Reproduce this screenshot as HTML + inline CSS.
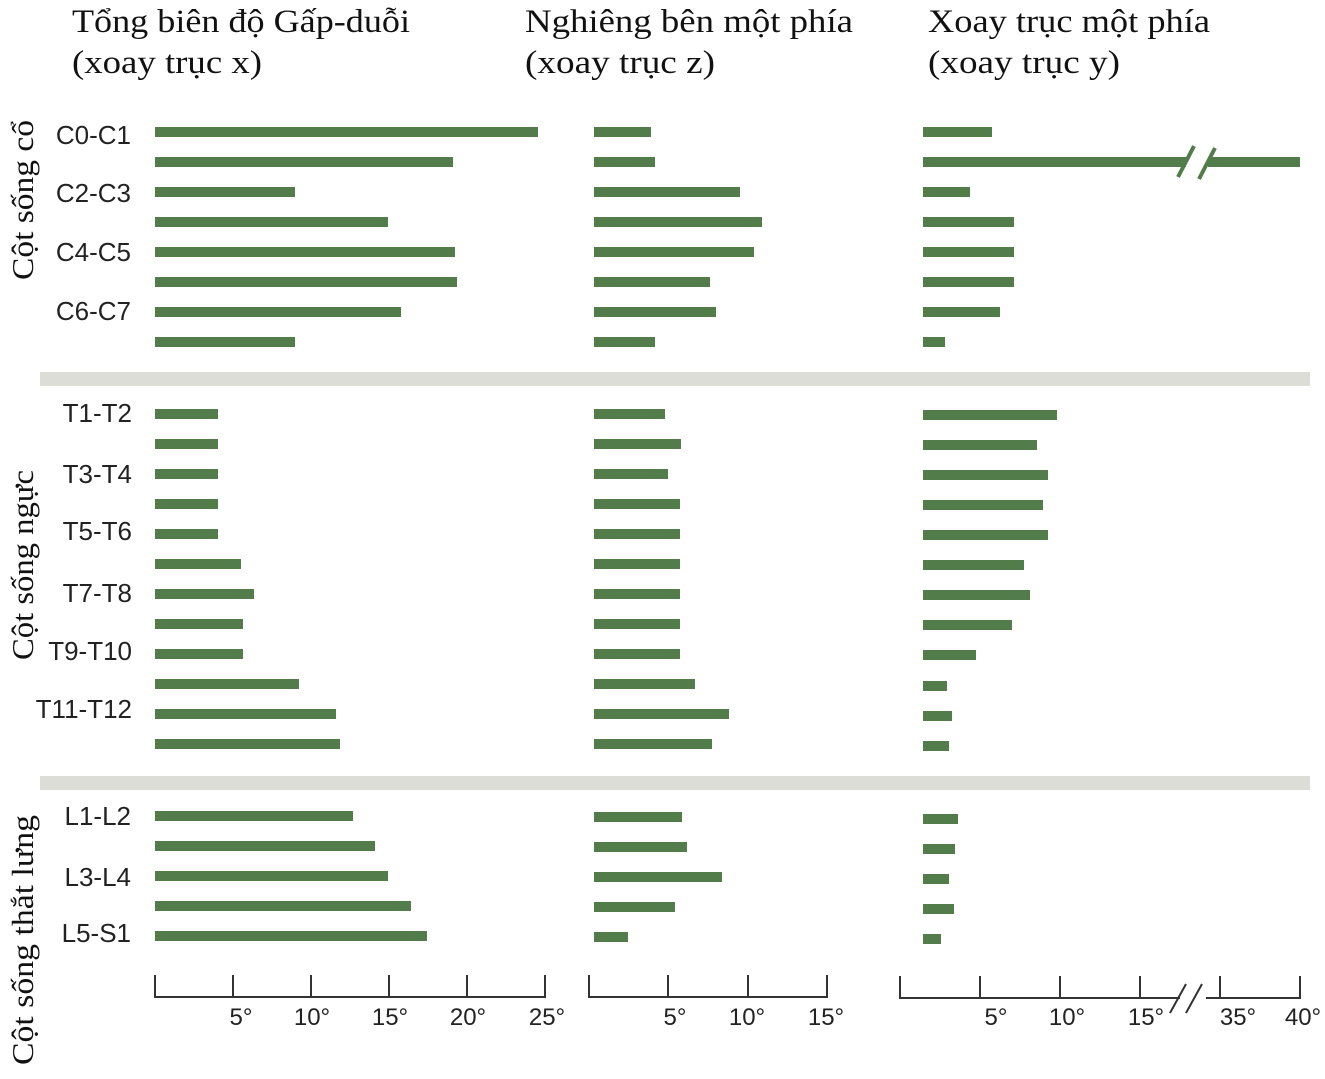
<!DOCTYPE html>
<html><head><meta charset="utf-8"><style>
html,body{margin:0;padding:0;background:#fff;}
svg{display:block;}
.t{font-family:"Liberation Serif",serif;font-size:33px;fill:#111;}
.l{font-family:"Liberation Sans",sans-serif;font-size:26px;fill:#222;}
.v{font-family:"Liberation Serif",serif;font-size:31px;fill:#111;}
.a{font-family:"Liberation Sans",sans-serif;font-size:24px;fill:#222;}
</style></head><body>
<svg width="1325" height="1079" viewBox="0 0 1325 1079" xmlns="http://www.w3.org/2000/svg">
<text class="t" x="72" y="32" textLength="338" lengthAdjust="spacingAndGlyphs">Tổng biên độ Gấp-duỗi</text>
<text class="t" x="72" y="73" textLength="190" lengthAdjust="spacingAndGlyphs">(xoay trục x)</text>
<text class="t" x="525" y="32" textLength="328" lengthAdjust="spacingAndGlyphs">Nghiêng bên một phía</text>
<text class="t" x="525" y="73" textLength="190" lengthAdjust="spacingAndGlyphs">(xoay trục z)</text>
<text class="t" x="928" y="32" textLength="282" lengthAdjust="spacingAndGlyphs">Xoay trục một phía</text>
<text class="t" x="928" y="73" textLength="192" lengthAdjust="spacingAndGlyphs">(xoay trục y)</text>

<text class="v" transform="translate(33,200) rotate(-90)" text-anchor="middle" textLength="160" lengthAdjust="spacingAndGlyphs">Cột sống cổ</text>
<text class="v" transform="translate(33,565) rotate(-90)" text-anchor="middle" textLength="190" lengthAdjust="spacingAndGlyphs">Cột sống ngực</text>
<text class="v" transform="translate(33,940) rotate(-90)" text-anchor="middle" textLength="250" lengthAdjust="spacingAndGlyphs">Cột sống thắt lưng</text>

<g class="l" text-anchor="end">
<text x="131" y="144">C0-C1</text><text x="131" y="202">C2-C3</text><text x="131" y="261">C4-C5</text><text x="131" y="320">C6-C7</text>
<text x="132" y="422">T1-T2</text><text x="132" y="483">T3-T4</text><text x="132" y="540">T5-T6</text><text x="132" y="602">T7-T8</text><text x="132" y="660">T9-T10</text><text x="132" y="718">T11-T12</text>
<text x="131" y="825">L1-L2</text><text x="131" y="886">L3-L4</text><text x="131" y="942">L5-S1</text>
</g>

<rect x="40" y="372" width="1270" height="14" fill="#dcddd6"/>
<rect x="40" y="776" width="1270" height="14" fill="#dcddd6"/>

<g fill="#527c4a">
<rect x="155" y="127" width="383" height="10"/><rect x="155" y="157" width="298" height="10"/><rect x="155" y="187" width="140" height="10"/><rect x="155" y="217" width="233" height="10"/><rect x="155" y="247" width="300" height="10"/><rect x="155" y="277" width="302" height="10"/><rect x="155" y="307" width="246" height="10"/><rect x="155" y="337" width="140" height="10"/>
<rect x="155" y="409" width="63" height="10"/><rect x="155" y="439" width="63" height="10"/><rect x="155" y="469" width="63" height="10"/><rect x="155" y="499" width="63" height="10"/><rect x="155" y="529" width="63" height="10"/><rect x="155" y="559" width="86" height="10"/><rect x="155" y="589" width="99" height="10"/><rect x="155" y="619" width="88" height="10"/><rect x="155" y="649" width="88" height="10"/><rect x="155" y="679" width="144" height="10"/><rect x="155" y="709" width="181" height="10"/><rect x="155" y="739" width="185" height="10"/>
<rect x="155" y="811" width="198" height="10"/><rect x="155" y="841" width="220" height="10"/><rect x="155" y="871" width="233" height="10"/><rect x="155" y="901" width="256" height="10"/><rect x="155" y="931" width="272" height="10"/>
<rect x="594" y="127" width="57" height="10"/><rect x="594" y="157" width="61" height="10"/><rect x="594" y="187" width="146" height="10"/><rect x="594" y="217" width="168" height="10"/><rect x="594" y="247" width="160" height="10"/><rect x="594" y="277" width="116" height="10"/><rect x="594" y="307" width="122" height="10"/><rect x="594" y="337" width="61" height="10"/>
<rect x="594" y="409" width="71" height="10"/><rect x="594" y="439" width="87" height="10"/><rect x="594" y="469" width="74" height="10"/><rect x="594" y="499" width="86" height="10"/><rect x="594" y="529" width="86" height="10"/><rect x="594" y="559" width="86" height="10"/><rect x="594" y="589" width="86" height="10"/><rect x="594" y="619" width="86" height="10"/><rect x="594" y="649" width="86" height="10"/><rect x="594" y="679" width="101" height="10"/><rect x="594" y="709" width="135" height="10"/><rect x="594" y="739" width="118" height="10"/>
<rect x="594" y="812" width="88" height="10"/><rect x="594" y="842" width="93" height="10"/><rect x="594" y="872" width="128" height="10"/><rect x="594" y="902" width="81" height="10"/><rect x="594" y="932" width="34" height="10"/>
<rect x="923" y="127" width="69" height="10"/><rect x="923" y="157" width="377" height="10"/><rect x="923" y="187" width="47" height="10"/><rect x="923" y="217" width="91" height="10"/><rect x="923" y="247" width="91" height="10"/><rect x="923" y="277" width="91" height="10"/><rect x="923" y="307" width="77" height="10"/><rect x="923" y="337" width="22" height="10"/>
<rect x="923" y="410" width="134" height="10"/><rect x="923" y="440" width="114" height="10"/><rect x="923" y="470" width="125" height="10"/><rect x="923" y="500" width="120" height="10"/><rect x="923" y="530" width="125" height="10"/><rect x="923" y="560" width="101" height="10"/><rect x="923" y="590" width="107" height="10"/><rect x="923" y="620" width="89" height="10"/><rect x="923" y="650" width="53" height="10"/><rect x="923" y="681" width="24" height="10"/><rect x="923" y="711" width="29" height="10"/><rect x="923" y="741" width="26" height="10"/>
<rect x="923" y="814" width="35" height="10"/><rect x="923" y="844" width="32" height="10"/><rect x="923" y="874" width="26" height="10"/><rect x="923" y="904" width="31" height="10"/><rect x="923" y="934" width="18" height="10"/>
</g>
<rect x="1186" y="150" width="22" height="24" fill="#fff"/>
<g stroke="#527c4a" stroke-width="4">
<line x1="1178" y1="177" x2="1194" y2="146"/><line x1="1199" y1="179" x2="1215" y2="148"/>
</g>

<g stroke="#333" stroke-width="2" fill="none">
<path d="M155 975V997H545V975M233 975V997M311 975V997M389 975V997M467 975V997"/>
<path d="M589 975V997H827V975M668 975V997M748 975V997"/>
<path d="M900 976V998H1180M1206 998H1300V976M980 976V998M1060 976V998M1140 976V998M1220 976V998"/>
<line x1="1170" y1="1013" x2="1186" y2="984"/><line x1="1186" y1="1013" x2="1202" y2="984"/>
</g>
<g class="a" text-anchor="middle">
<text x="241" y="1025">5°</text><text x="312" y="1025">10°</text><text x="390" y="1025">15°</text><text x="468" y="1025">20°</text><text x="547" y="1025">25°</text>
<text x="675" y="1025">5°</text><text x="747" y="1025">10°</text><text x="826" y="1025">15°</text>
<text x="996" y="1025">5°</text><text x="1067" y="1025">10°</text><text x="1146" y="1025">15°</text><text x="1238" y="1025">35°</text><text x="1303" y="1025">40°</text>
</g>
</svg>
</body></html>
